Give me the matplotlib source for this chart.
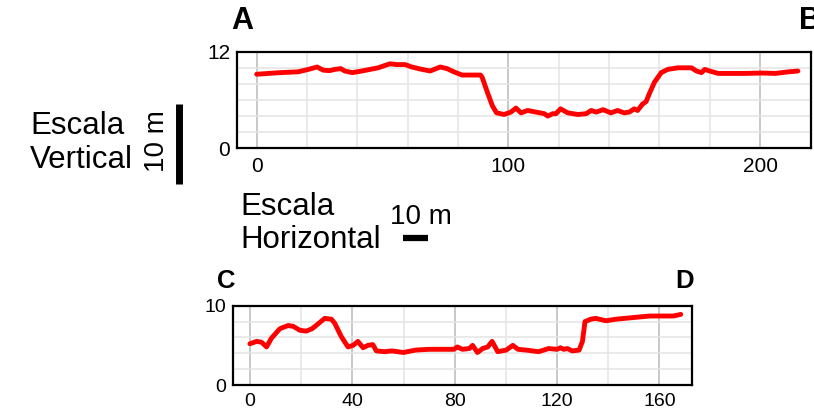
import numpy as np
import matplotlib
matplotlib.use('Agg')
import matplotlib.pyplot as plt
from matplotlib.lines import Line2D

# perfil A-B
top_x = [0, 9.3, 16.5, 20.5, 24, 26.5, 29, 31, 33.4, 35, 38, 41.7, 45, 48.3, 51,
         53, 55.6, 59, 61.6, 65, 68.9, 72.9, 75.6, 78.3, 81.6, 84.9, 88.9, 89.6,
         91.6, 93.6, 95.3, 98.3, 101, 103, 105, 107.6, 110.9, 114.3, 115.6, 117.6,
         118.9, 120.7, 123.6, 127.6, 130.9, 132.9, 134.9, 137.6, 140.7, 143.3, 146,
         148, 150, 151.3, 153.3, 154.7, 156, 158, 160.7, 163.3, 167.3, 172.7, 174.7,
         176.7, 178, 180, 183.3, 188.7, 194, 200.7, 206, 211.3, 215]
top_y = [9.2, 9.4, 9.5, 9.8, 10.1, 9.7, 9.65, 9.8, 9.9, 9.6, 9.4, 9.6, 9.8, 10.0, 10.3,
         10.5, 10.4, 10.4, 10.1, 9.85, 9.6, 10.1, 9.9, 9.5, 9.1, 9.1, 9.1, 8.8,
         7.0, 5.3, 4.4, 4.2, 4.5, 5.0, 4.4, 4.7, 4.5, 4.3, 4.0, 4.3,
         4.3, 4.9, 4.4, 4.2, 4.3, 4.7, 4.5, 4.8, 4.4, 4.7, 4.4,
         4.5, 4.9, 4.7, 5.5, 5.8, 6.8, 8.2, 9.4, 9.8, 10.0, 10.0, 9.6,
         9.4, 9.8, 9.6, 9.3, 9.3, 9.3, 9.35, 9.3, 9.5, 9.6]

# perfil C-D
bot_x = [0, 2.6, 4.5, 6.5, 8.4, 11.7, 14.9, 16.9, 19.5, 22, 24.3, 26.6, 29.2, 31.8,
         33.1, 35.7, 38.3, 40.3, 42.2, 44.2, 46.1, 48, 49.4, 52.6, 55.4, 60, 64.6,
         69.9, 75.1, 79.7, 81, 83, 85.7, 87, 88.9, 90.9, 92.9, 94.6, 96.8, 100.1,
         102.7, 104.7, 108, 112.8, 116.7, 120, 121.3, 122.6, 124, 125.9, 128.6,
         129.9, 130.9, 133.2, 135.1, 139.1, 143, 149.6, 156.2, 161.4, 165.4, 168.3]
bot_y = [5.2, 5.5, 5.4, 4.8, 5.9, 7.1, 7.5, 7.4, 6.9, 6.8, 7.1, 7.7, 8.4, 8.3,
         7.8, 6.1, 4.8, 5.0, 5.5, 4.7, 5.0, 5.1, 4.3, 4.2, 4.3, 4.1, 4.4,
         4.5, 4.5, 4.5, 4.8, 4.5, 4.6, 5.0, 4.1, 4.6, 4.8, 5.5, 4.2, 4.4,
         5.0, 4.5, 4.4, 4.2, 4.6, 4.5, 4.7, 4.5, 4.6, 4.3, 4.4,
         5.5, 8.0, 8.3, 8.4, 8.1, 8.3, 8.5, 8.7, 8.7, 8.7, 8.9]

top_xticks = [0, 100, 200]
top_yticks = [0, 12]
bot_xticks = [0, 40, 80, 120, 160]
bot_yticks = [0, 10]

plt.rcParams['font.family'] = ['Liberation Sans', 'DejaVu Sans']

W, H = 814, 419
fig = plt.figure(figsize=(W / 100, H / 100), dpi=100)


def px_axes(left, top, right, bottom):
    return fig.add_axes([left / W, 1 - bottom / H, (right - left) / W, (bottom - top) / H])


def setup(ax, xlim, ylim, xticks, yticks, fs):
    ax.set_xlim(*xlim)
    ax.set_ylim(*ylim)
    ax.set_xticks(xticks)
    ax.set_yticks(yticks)
    ax.set_xticks(np.arange(0, xlim[1], 20), minor=True)
    ax.set_yticks(np.arange(0, ylim[1] + 0.1, 2), minor=True)
    ax.grid(True, which='minor', color='#e4e4e4', lw=1.1, zorder=0)
    ax.grid(True, which='major', axis='x', color='#c8c8c8', lw=1.4, zorder=0)
    ax.tick_params(which='both', length=0)
    ax.tick_params(axis='x', pad=6, labelsize=fs)
    ax.tick_params(axis='y', pad=5, labelsize=fs)
    for s in ax.spines.values():
        s.set_linewidth(1.6)
        s.set_color('black')
    ax.set_axisbelow(True)


ax1 = px_axes(237.3, 51.7, 810.5, 148.3)
setup(ax1, (-7.7, 220), (0, 12), top_xticks, top_yticks, 15)
ax1.plot(top_x, top_y, color='#ff0000', lw=3.5, solid_capstyle='round', solid_joinstyle='round')

ax2 = px_axes(233.3, 305.7, 692, 385)
setup(ax2, (-6.5, 172.7), (0, 10), bot_xticks, bot_yticks, 14)
ax2.plot(bot_x, bot_y, color='#ff0000', lw=3.5, solid_capstyle='round', solid_joinstyle='round')


def ftext(x, y, s, **kw):
    fig.text(x / W, 1 - y / H, s, **kw)


ftext(242.5, 21, 'A', fontsize=22, fontweight='bold', ha='center', va='center')
ftext(799, 21, 'B', fontsize=22, fontweight='bold', ha='left', va='center')
ftext(226.7, 281, 'C', fontsize=18.5, fontweight='bold', ha='center', va='center')
ftext(685, 281, 'D', fontsize=18.5, fontweight='bold', ha='center', va='center')

ftext(30, 126, 'Escala', fontsize=22.5, ha='left', va='center')
ftext(30, 160, 'Vertical', fontsize=22.5, ha='left', va='center')
ftext(156.7, 141, '10 m', fontsize=20, ha='center', va='center', rotation=90)

ftext(240, 207, 'Escala', fontsize=22.5, ha='left', va='center')
ftext(240, 240, 'Horizontal', fontsize=22.5, ha='left', va='center')
ftext(421, 217, '10 m', fontsize=20, ha='center', va='center')

# scale bars: 10 m in the top profile's units
fig.canvas.draw()
p0 = ax1.transData.transform((0, 0))
px_x = ax1.transData.transform((10, 0))[0] - p0[0]
px_y = ax1.transData.transform((0, 10))[1] - p0[1]
vx, vy0 = 179.3 / W, 1 - 184 / H
fig.add_artist(Line2D([vx, vx], [vy0, vy0 + px_y / H], transform=fig.transFigure,
                      color='black', lw=5, solid_capstyle='butt'))
hx0, hy = 403.3 / W, 1 - 238 / H
fig.add_artist(Line2D([hx0, hx0 + px_x / W], [hy, hy], transform=fig.transFigure,
                      color='black', lw=4.5, solid_capstyle='butt'))

fig.savefig('out.png', dpi=100)
